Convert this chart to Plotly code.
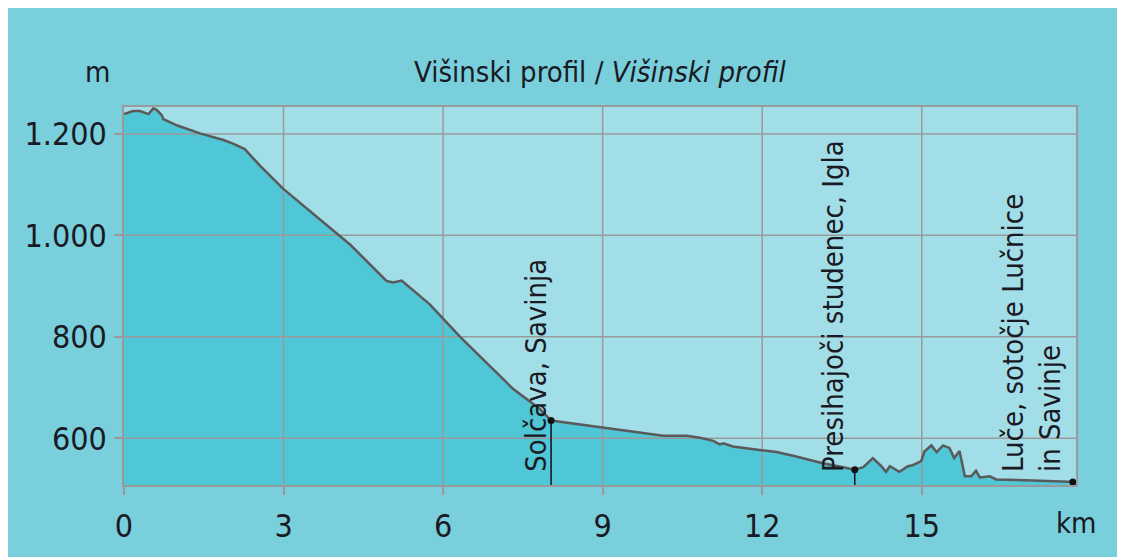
import plotly.graph_objects as go

# ---- data ----
km = [0, 0.17, 0.3, 0.46, 0.55, 0.61, 0.71, 0.74, 0.99, 1.43, 1.87, 2.05, 2.27, 2.56,
      2.99, 3.37, 4.0, 4.26, 4.94, 5.06, 5.22, 5.75, 6.0, 6.32, 7.32, 7.82, 8.03, 8.95,
      9.38, 10.14, 10.58, 10.83, 11.08, 11.2, 11.27, 11.45, 11.95, 12.27, 12.64, 13.14,
      13.52, 13.74, 13.9, 14.08, 14.24, 14.33, 14.4, 14.58, 14.74, 14.83, 14.99, 15.05,
      15.18, 15.28, 15.4, 15.52, 15.61, 15.71, 15.81, 15.93, 16.02, 16.09, 16.28, 16.4,
      17.09, 17.84, 17.9]
elev = [1239, 1245, 1245, 1239, 1250, 1248, 1237, 1229, 1217, 1201, 1188, 1181, 1170, 1137,
        1092, 1059, 1003, 981, 910, 907, 911, 864, 836, 800, 697, 658, 635, 622,
        616, 605, 605, 601, 595, 588, 590, 584, 577, 573, 564, 551,
        543, 538, 543, 561, 545, 534, 545, 534, 545, 547, 555, 574,
        586, 573, 586, 581, 561, 575, 525, 525, 536, 523, 525, 519,
        517, 514, 514]

places = ["Solčava, Savinja", "Presihajoči studenec, Igla", "Luče, sotočje Lučnice<br>in Savinje"]
place_km = [8.03, 13.74, 17.84]
place_elev = [635, 538, 514]
place_stem = [True, True, False]
label_shift = [4, -3, -3]   # horizontal offset of each label (style)

x_ticks = [0, 3, 6, 9, 12, 15]
x_tick_text = ["0", "3", "6", "9", "12", "15"]
y_ticks = [600, 800, 1000, 1200]
y_tick_text = ["600", "800", "1.000", "1.200"]

X_RANGE = [0, 17.9]
Y_RANGE = [508, 1253]

OUTER = "#79CFDC"
PLOT_BG = "#A2DEE8"
FILL = "#4FC7D6"
LINE = "#5A5A5A"
GRID = "#9A9A9A"
TXT = "#1A1A24"
FONT = "DejaVu Sans Condensed, Liberation Sans Narrow, Roboto, sans-serif"

fig = go.Figure()

# filled profile
fig.add_trace(go.Scatter(x=km, y=elev, mode="lines", fill="tozeroy",
                         fillcolor=FILL, line=dict(color="rgba(0,0,0,0)", width=0),
                         hoverinfo="skip", showlegend=False))

# grid lines (drawn over the fill)
gx, gy = [], []
for v in x_ticks[1:]:
    gx += [v, v, None]
    gy += [Y_RANGE[0], Y_RANGE[1], None]
for v in y_ticks:
    gx += [X_RANGE[0], X_RANGE[1], None]
    gy += [v, v, None]
fig.add_trace(go.Scatter(x=gx, y=gy, mode="lines", line=dict(color=GRID, width=1.5),
                         hoverinfo="skip", showlegend=False))

# profile line
fig.add_trace(go.Scatter(x=km, y=elev, mode="lines", line=dict(color=LINE, width=2.5),
                         hoverinfo="skip", showlegend=False))

# stems to places
sx, sy = [], []
for k, e, s in zip(place_km, place_elev, place_stem):
    if s:
        sx += [k, k, None]
        sy += [e, Y_RANGE[0], None]
fig.add_trace(go.Scatter(x=sx, y=sy, mode="lines", line=dict(color="#111111", width=1.5),
                         hoverinfo="skip", showlegend=False))
fig.add_trace(go.Scatter(x=place_km, y=place_elev, mode="markers",
                         marker=dict(color="#111111", size=7),
                         hoverinfo="skip", showlegend=False))

# place labels (rotated)
for name, k, sh in zip(places, place_km, label_shift):
    fig.add_annotation(x=k, y=0.055, xref="x", yref="paper", text=name,
                       textangle=-90, xanchor="right", yanchor="bottom",
                       xshift=sh, yshift=-10, showarrow=False, align="left",
                       font=dict(family=FONT, size=29, color=TXT))

# title, unit labels
fig.add_annotation(x=0.5, y=1.0, xref="paper", yref="paper", yshift=35,
                   text="Višinski profil / <i>Višinski profil</i>", showarrow=False,
                   xanchor="center", yanchor="middle",
                   font=dict(family=FONT, size=29, color=TXT))
fig.add_annotation(x=0, y=1.0, xref="paper", yref="paper", xshift=-27, yshift=35,
                   text="m", showarrow=False, xanchor="center", yanchor="middle",
                   font=dict(family=FONT, size=29, color=TXT))
fig.add_annotation(x=1.0, y=0, xref="paper", yref="paper", xshift=0, yshift=-38,
                   text="km", showarrow=False, xanchor="center", yanchor="middle",
                   font=dict(family=FONT, size=29, color=TXT))

fig.update_xaxes(range=X_RANGE, tickvals=x_ticks, ticktext=x_tick_text,
                 showgrid=False, zeroline=False, showline=True, mirror=True,
                 linecolor=GRID, linewidth=1.5, ticks="outside", ticklen=8,
                 tickcolor=GRID, tickwidth=1.5, ticklabelstandoff=4,
                 tickfont=dict(family=FONT, size=32, color=TXT))
fig.update_yaxes(range=Y_RANGE, tickvals=y_ticks, ticktext=y_tick_text,
                 showgrid=False, zeroline=False, showline=True, mirror=True,
                 linecolor=GRID, linewidth=1.5, ticks="outside", ticklen=8,
                 tickcolor=GRID, tickwidth=1.5, ticklabelstandoff=1,
                 tickfont=dict(family=FONT, size=32, color=TXT))

fig.update_layout(width=1117, height=549, autosize=False,
                  margin=dict(l=116, r=49, t=99, b=66),
                  paper_bgcolor=OUTER, plot_bgcolor=PLOT_BG,
                  showlegend=False)

fig.write_html("out.html")
